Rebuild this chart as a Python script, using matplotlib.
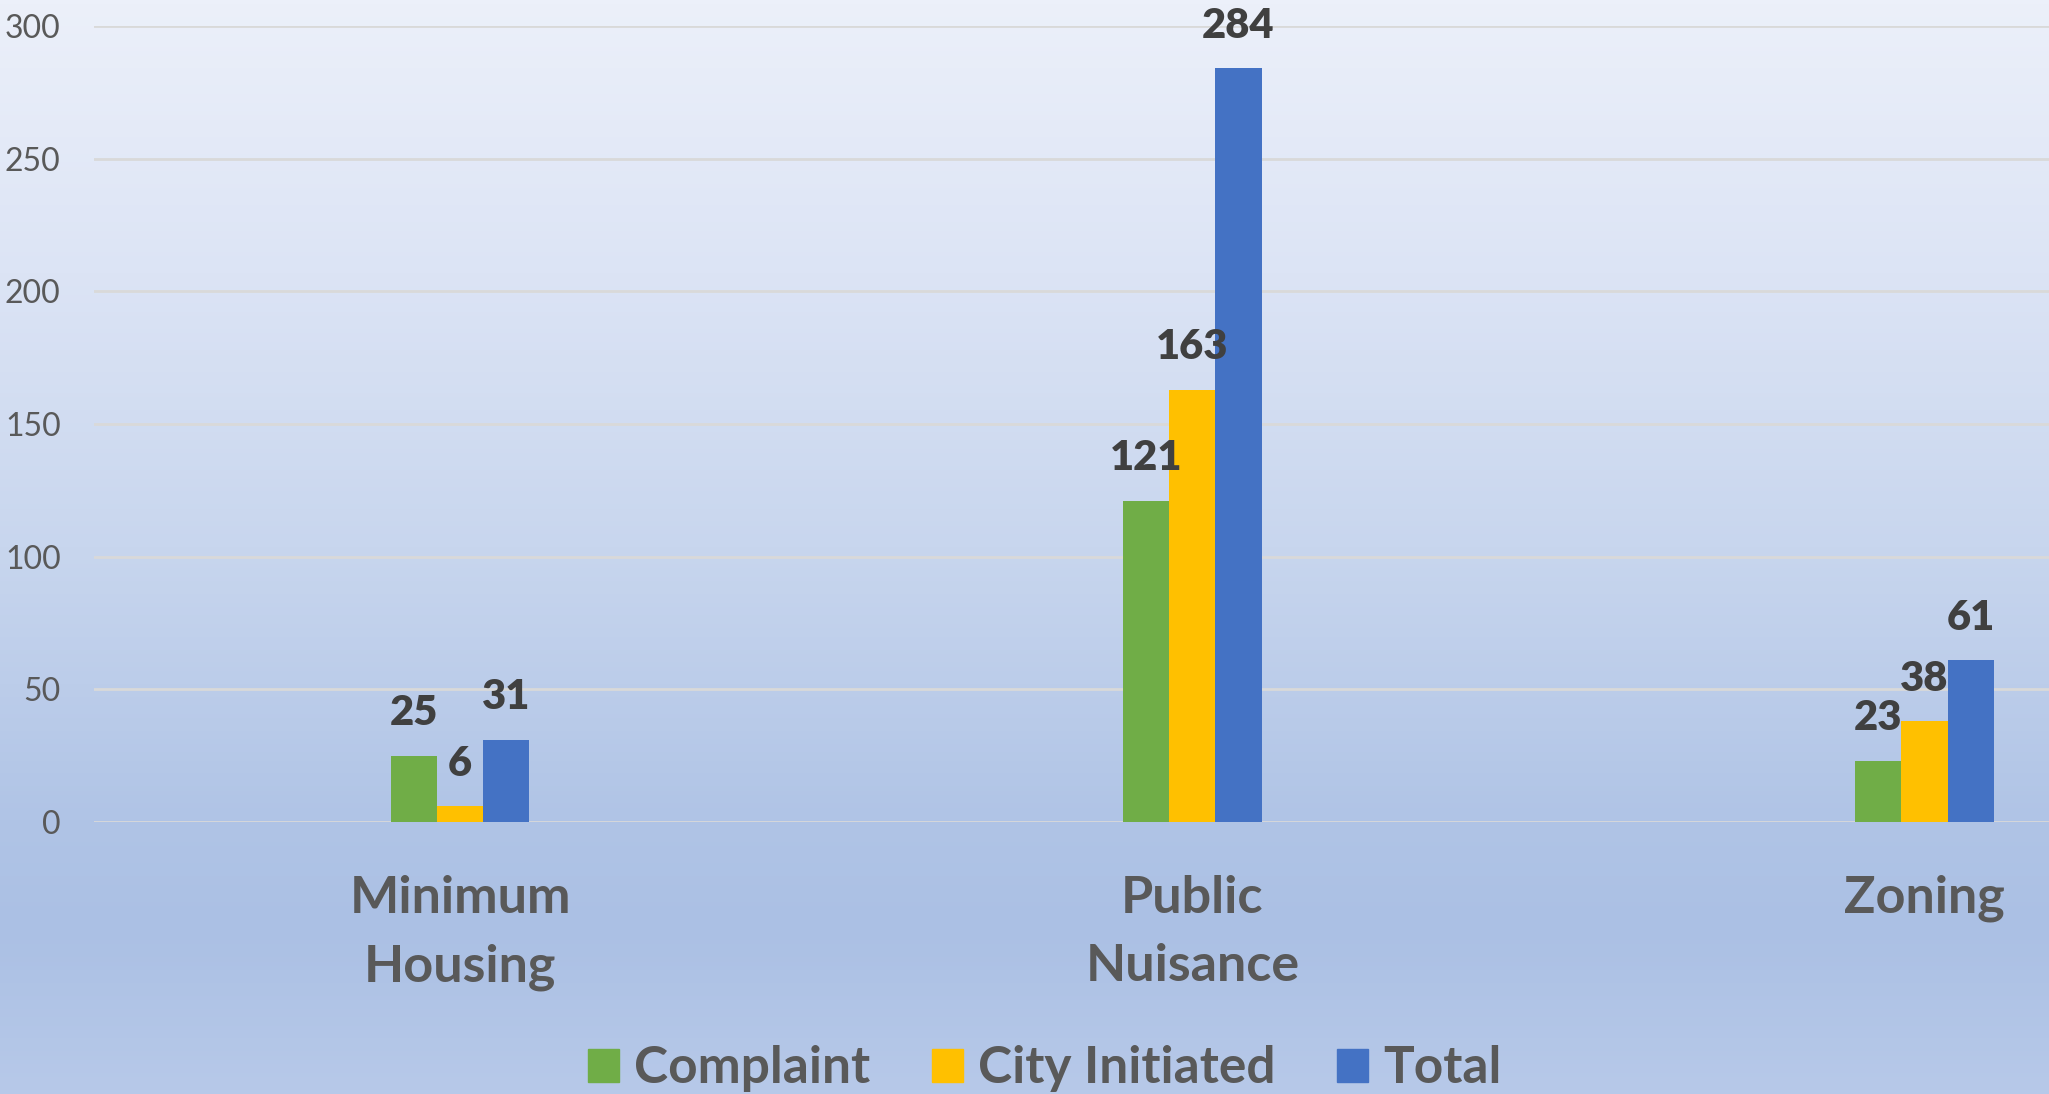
import numpy as np
import matplotlib.pyplot as plt
from matplotlib.colors import LinearSegmentedColormap
from matplotlib.patches import Patch

# data
categories = ["Minimum\nHousing", "Public\nNuisance", "Zoning"]
series_names = ["Complaint", "City Initiated", "Total"]
complaint = [25, 121, 23]
city_initiated = [6, 163, 38]
total = [31, 284, 61]
yticks = [0, 50, 100, 150, 200, 250, 300]

colors = ["#70AD47", "#FFC000", "#4472C4"]
plt.rcParams["font.family"] = ["Lato", "DejaVu Sans"]

fig = plt.figure(figsize=(20.49, 10.94), dpi=100)

# gradient background
bg = fig.add_axes([0, 0, 1, 1], zorder=-10)
grad = LinearSegmentedColormap.from_list(
    "bg", [(0.0, "#ECF0FA"), (0.25, "#DCE4F5"), (0.5, "#C8D6EE"),
           (0.75, "#B0C4E6"), (0.85, "#ABC0E4"), (1.0, "#B7C9E9")])
bg.imshow(np.linspace(0, 1, 256).reshape(-1, 1), cmap=grad, aspect="auto",
          extent=[0, 1, 0, 1])
bg.set_axis_off()

ax = fig.add_axes([0.0459, 0.2486, 0.9541, 0.7276])
ax.patch.set_alpha(0)

x = np.arange(len(categories))
w = 0.063
series = [complaint, city_initiated, total]
for i, (name, vals) in enumerate(zip(series_names, series)):
    pos = x + (i - 1) * w
    ax.bar(pos, vals, width=w, color=colors[i], label=name, zorder=3)
    for px, v in zip(pos, vals):
        ax.annotate(str(v), (px, v), xytext=(0, 22), textcoords="offset points",
                    ha="center", va="baseline", fontsize=30, fontweight="heavy",
                    color="#404040", zorder=4)

ax.set_xlim(-0.5, 2.17)
ax.set_ylim(0, 300)
ax.set_yticks(yticks)
ax.yaxis.grid(True, color="#D9D9D9", linewidth=2, zorder=0)
ax.tick_params(axis="y", length=0, pad=24, labelsize=23, labelcolor="#595959")
ax.set_xticks(x)
ax.set_xticklabels(categories, fontsize=37.5, fontweight="bold", color="#595959",
                   linespacing=1.56)
ax.tick_params(axis="x", length=0, pad=38)
for s in ax.spines.values():
    s.set_visible(False)

handles = [Patch(color=c) for c in colors]
fig.legend(handles, series_names, loc="center", bbox_to_anchor=(0.51, 0.023),
           ncol=3, frameon=False, prop={"weight": "bold", "size": 37},
           labelcolor="#595959", handlelength=0.6, handleheight=0.6,
           handletextpad=0.3, columnspacing=1.2)

fig.savefig("out.png", dpi=100)
